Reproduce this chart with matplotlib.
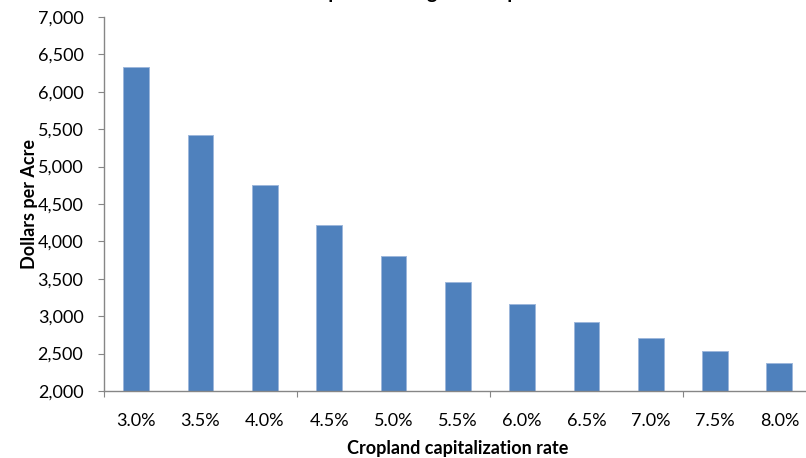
import matplotlib
matplotlib.use("Agg")
import matplotlib.pyplot as plt
from matplotlib.ticker import FuncFormatter, FixedLocator

plt.rcParams['font.family'] = ['Lato', 'DejaVu Sans']

# data
cap_rates = ['3.0%', '3.5%', '4.0%', '4.5%', '5.0%', '5.5%',
             '6.0%', '6.5%', '7.0%', '7.5%', '8.0%']
dollars_per_acre = [6333, 5429, 4750, 4222, 3800, 3455,
                    3167, 2923, 2714, 2533, 2375]
y_ticks = [2000, 2500, 3000, 3500, 4000, 4500, 5000, 5500, 6000, 6500, 7000]

title = 'Implied Average Value per Acre'
x_title = 'Cropland capitalization rate'
y_title = 'Dollars per Acre'

bar_color = '#4F81BD'
axis_gray = '#868686'


def main():
    fig = plt.figure(figsize=(8.06, 4.58), dpi=100)
    # axes runs a little past the right edge, as in the cropped original
    ax = fig.add_axes([104 / 806, 67 / 458, 707.5 / 806, 374 / 458])

    pos = list(range(len(cap_rates)))
    ax.bar(pos, dollars_per_acre, width=0.4, color=bar_color,
           edgecolor='#9DB7DB', linewidth=0.7, zorder=2)

    ax.set_xlim(-0.5, len(cap_rates) - 0.5)
    ax.set_ylim(y_ticks[0], y_ticks[-1])

    ax.set_yticks(y_ticks)
    ax.yaxis.set_major_formatter(FuncFormatter(lambda v, p: f'{int(v):,}'))
    ax.tick_params(axis='y', length=4.3, width=0.8, color=axis_gray,
                   pad=10.5, labelsize=13)

    ax.set_xticks(pos)
    ax.set_xticklabels(cap_rates)
    ax.tick_params(axis='x', which='major', length=0, pad=16, labelsize=13)
    # tick marks only every third category boundary
    ax.xaxis.set_minor_locator(FixedLocator([-0.5, 2.5, 5.5, 8.5]))
    ax.tick_params(axis='x', which='minor', length=4, width=0.8,
                   color=axis_gray)

    for side in ['top', 'right']:
        ax.spines[side].set_visible(False)
    for side in ['left', 'bottom']:
        ax.spines[side].set_color(axis_gray)
        ax.spines[side].set_linewidth(1.0)

    ax.set_xlabel(x_title, fontsize=13, fontweight='bold', labelpad=8)
    ax.set_ylabel(y_title, fontsize=13, fontweight='bold', labelpad=0)

    # title sits above the top edge of the cropped chart; only descenders show
    fig.text(0.55, 1 + 1 / 458, title, ha='center', va='baseline',
             fontsize=14, fontweight='bold')

    fig.savefig('out.png', dpi=100)


if __name__ == "__main__":
    main()
